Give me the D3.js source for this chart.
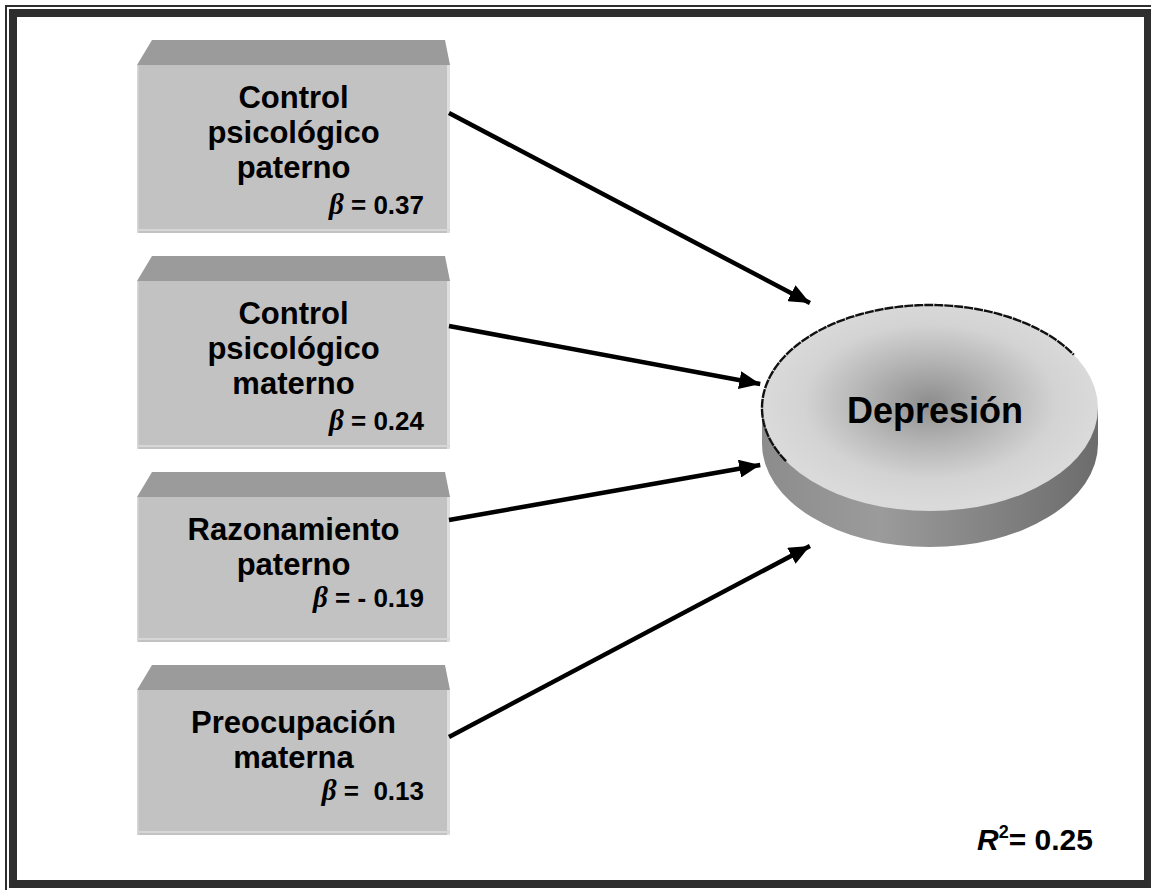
<!DOCTYPE html>
<html>
<head>
<meta charset="utf-8">
<script src="https://cdn.jsdelivr.net/npm/d3@7"></script>
<style>
  body { margin: 0; background: #fff; }
  svg { display: block; }
  text { white-space: pre; }
</style>
</head>
<body>
<script>
// predictors of depression (one box each), text lines as in the figure
var predictors = [
  ['Control', 'psicológico', 'paterno'],
  ['Control', 'psicológico', 'materno'],
  ['Razonamiento', 'paterno'],
  ['Preocupación', 'materna']
];
var betas = [0.37, 0.24, -0.19, 0.13];
var betaLabels = ['0.37', '0.24', '- 0.19', ' 0.13'];
var outcome = 'Depresión';
var r2 = 0.25;
var r2Label = '0.25';

var W = 1151, H = 890;
var FONT = '"Liberation Sans", Arial, sans-serif';

var svg = d3.select('body').append('svg')
  .attr('width', W)
  .attr('height', H);

var defs = svg.append('defs');

var topGrad = defs.append('radialGradient')
  .attr('id', 'topGrad')
  .attr('cx', '0.5').attr('cy', '0.47').attr('r', '0.5');
topGrad.append('stop').attr('offset', '0').attr('stop-color', '#8e8e8e');
topGrad.append('stop').attr('offset', '0.4').attr('stop-color', '#b4b4b4');
topGrad.append('stop').attr('offset', '0.75').attr('stop-color', '#d3d3d3');
topGrad.append('stop').attr('offset', '1').attr('stop-color', '#dadada');

var sideGrad = defs.append('linearGradient')
  .attr('id', 'sideGrad')
  .attr('x1', '0').attr('x2', '1').attr('y1', '0').attr('y2', '0');
sideGrad.append('stop').attr('offset', '0').attr('stop-color', '#8c8c8c');
sideGrad.append('stop').attr('offset', '0.35').attr('stop-color', '#9b9b9b');
sideGrad.append('stop').attr('offset', '0.75').attr('stop-color', '#7e7e7e');
sideGrad.append('stop').attr('offset', '1').attr('stop-color', '#6c6c6c');

defs.append('marker')
  .attr('id', 'head')
  .attr('markerUnits', 'userSpaceOnUse')
  .attr('viewBox', '0 -9 21 18')
  .attr('refX', 21).attr('refY', 0)
  .attr('markerWidth', 21).attr('markerHeight', 18)
  .attr('orient', 'auto')
  .append('path')
  .attr('d', 'M0,-9L21,0L0,9Z')
  .attr('fill', '#000');

// frame
svg.append('rect')
  .attr('x', 6).attr('y', 6).attr('width', W - 2).attr('height', H - 2)
  .attr('fill', 'none').attr('stroke', '#2e2e2e').attr('stroke-width', 2);
svg.append('rect')
  .attr('x', 13).attr('y', 13).attr('width', 1135).attr('height', 871)
  .attr('fill', '#fff').attr('stroke', '#2e2e2e').attr('stroke-width', 8);

// ---- box layout ----
var boxLeft = 137, boxRight = 450, bevel = 25, gap = 23;
var lineH = 35;
var boxes = [];
var yTop = 40;
predictors.forEach(function(lines, i) {
  var front = 99 + 23 * lines.length;
  boxes.push({ lines: lines, beta: betas[i], label: betaLabels[i],
               top: yTop, front: yTop + bevel, bottom: yTop + bevel + front });
  yTop += bevel + front + gap;
});

var x = d3.scaleLinear().domain([0, 1]).range([boxLeft, boxRight]);

var g = svg.selectAll('.box').data(boxes).enter().append('g').attr('class', 'box');

g.append('path')
  .attr('d', function(d) {
    return 'M' + (x(0) + 15) + ',' + d.top + 'L' + (x(1) - 5) + ',' + d.top +
      'L' + x(1) + ',' + d.front + 'L' + x(0) + ',' + d.front + 'Z';
  })
  .attr('fill', '#9b9b9b');

g.append('rect')
  .attr('x', x(0)).attr('y', function(d) { return d.front; })
  .attr('width', x(1) - x(0))
  .attr('height', function(d) { return d.bottom - d.front; })
  .attr('fill', '#c2c2c2');

// light rims
g.append('rect')
  .attr('x', x(1) - 3).attr('y', function(d) { return d.front; })
  .attr('width', 3).attr('height', function(d) { return d.bottom - d.front; })
  .attr('fill', '#dedede');
g.append('rect')
  .attr('x', x(0)).attr('y', function(d) { return d.front; })
  .attr('width', 1.5).attr('height', function(d) { return d.bottom - d.front; })
  .attr('fill', '#d8d8d8');
g.append('rect')
  .attr('x', x(0)).attr('y', function(d) { return d.bottom - 4; })
  .attr('width', x(1) - x(0)).attr('height', 2)
  .attr('fill', '#d6d6d6');

var cxBox = (x(0) + x(1)) / 2;

g.each(function(d) {
  var sel = d3.select(this);
  var first = 43;
  d.lines.forEach(function(t, j) {
    sel.append('text')
      .attr('x', cxBox)
      .attr('y', d.front + first + j * lineH)
      .attr('text-anchor', 'middle')
      .attr('font-family', FONT)
      .attr('font-weight', 'bold')
      .attr('font-size', 31)
      .attr('fill', '#000')
      .text(t);
  });
  var bt = sel.append('text')
    .attr('x', 424)
    .attr('y', d.front + first + d.lines.length * lineH + (d.lines.length === 3 ? 1 : -3))
    .attr('text-anchor', 'end')
    .attr('font-family', FONT)
    .attr('font-weight', 'bold')
    .attr('font-size', 26)
    .attr('fill', '#000');
  bt.append('tspan')
    .attr('font-family', '"Liberation Serif", "Times New Roman", serif')
    .attr('font-style', 'italic')
    .attr('font-size', 29)
    .text('β');
  bt.append('tspan').text(' = ' + d.label);
});

// ---- outcome ellipse ----
var ell = { cx: 930, cy: 408, rx: 168, ry: 103, depth: 36 };

svg.append('path')
  .attr('d', 'M' + (ell.cx - ell.rx) + ',' + ell.cy +
    'L' + (ell.cx - ell.rx) + ',' + (ell.cy + ell.depth) +
    'A' + ell.rx + ',' + ell.ry + ' 0 0 0 ' + (ell.cx + ell.rx) + ',' + (ell.cy + ell.depth) +
    'L' + (ell.cx + ell.rx) + ',' + ell.cy + 'Z')
  .attr('fill', 'url(#sideGrad)');

svg.append('ellipse')
  .attr('cx', ell.cx).attr('cy', ell.cy)
  .attr('rx', ell.rx).attr('ry', ell.ry)
  .attr('fill', 'url(#topGrad)');

var rim = d3.line()
  .x(function(t) { return ell.cx + ell.rx * Math.cos(t); })
  .y(function(t) { return ell.cy + ell.ry * Math.sin(t); });
svg.append('path')
  .attr('d', rim(d3.range(2.6, 5.75, 0.02)))
  .attr('fill', 'none')
  .attr('stroke', '#111')
  .attr('stroke-width', 2.4)
  .attr('stroke-dasharray', '9,1');

svg.append('text')
  .attr('x', ell.cx + 5).attr('y', ell.cy + 15)
  .attr('text-anchor', 'middle')
  .attr('font-family', FONT)
  .attr('font-weight', 'bold')
  .attr('font-size', 36)
  .attr('fill', '#000')
  .text(outcome);

// ---- arrows ----
var anchorDy = [48, 45, 23, 47];
var tipY = d3.scalePoint().domain(d3.range(boxes.length)).range([303, 546]);
var tip = { cx: 930, cy: 424.5, rx: 175, ry: 167 };

svg.selectAll('.arrow').data(boxes).enter().append('line')
  .attr('class', 'arrow')
  .attr('x1', x(1) - 1)
  .attr('y1', function(d, i) { return d.front + anchorDy[i]; })
  .attr('x2', function(d, i) {
    var dy = (tipY(i) - tip.cy) / tip.ry;
    return tip.cx - tip.rx * Math.sqrt(1 - dy * dy);
  })
  .attr('y2', function(d, i) { return tipY(i); })
  .attr('stroke', '#000')
  .attr('stroke-width', 4.5)
  .attr('marker-end', 'url(#head)');

// ---- R squared ----
var rt = svg.append('text')
  .attr('x', 1093).attr('y', 850)
  .attr('text-anchor', 'end')
  .attr('font-family', FONT)
  .attr('font-weight', 'bold')
  .attr('font-size', 30)
  .attr('fill', '#000');
rt.append('tspan').attr('font-style', 'italic').text('R');
rt.append('tspan').attr('font-size', 18).attr('dy', -12).text('2');
rt.append('tspan').attr('dy', 12).text('= ' + r2Label);
</script>
</body>
</html>
